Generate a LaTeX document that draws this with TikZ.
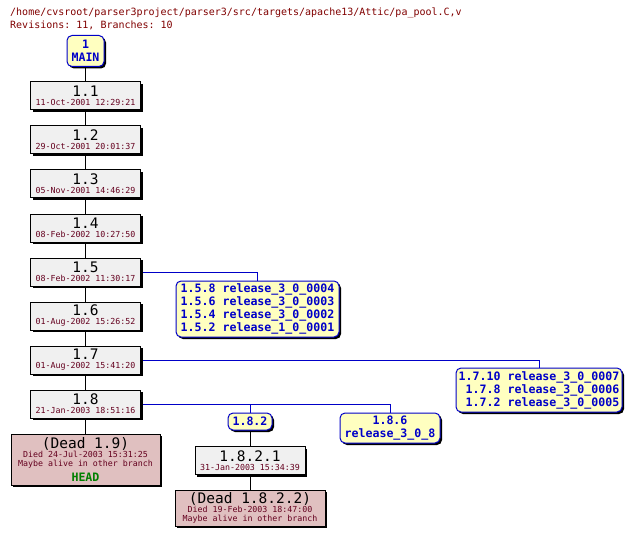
\documentclass[tikz,border=0pt]{standalone}
\usepackage{fontspec}
\setmonofont{DejaVu Sans Mono}
\usepackage{xcolor}
\usepackage{tikz}
\usetikzlibrary{shadows, backgrounds}
\definecolor{CVSRed}{RGB}{128,0,0}
\definecolor{CVSDate}{RGB}{100,0,30}
\definecolor{CVSGray}{RGB}{240,240,240}
\definecolor{CVSDead}{RGB}{224,192,192}
\definecolor{CVSYellow}{RGB}{255,255,192}
\definecolor{CVSBlue}{RGB}{0,0,200}
\definecolor{CVSGreen}{RGB}{0,128,0}
\newcommand{\revno}[1]{{\color{black}\fontsize{14.5}{15}\selectfont #1}}

\begin{document}
\begin{tikzpicture}[x=1pt, y=-1pt,
    rev/.style={draw=black, fill=CVSGray, line width=1pt, inner sep=0pt,
      minimum width=110, minimum height=28, align=center, text=CVSDate,
      font=\ttfamily\fontsize{8.3}{9}\selectfont,
      drop shadow={shadow xshift=2pt, shadow yshift=-2pt, fill=black, opacity=1}},
    dead/.style={rev, fill=CVSDead},
    tag/.style={draw=CVSBlue, fill=CVSYellow, rounded corners=5pt, line width=1pt,
      inner sep=0pt, align=center, text=CVSBlue,
      font=\ttfamily\bfseries\fontsize{11.6}{13}\selectfont,
      drop shadow={shadow xshift=2pt, shadow yshift=-2pt, fill=black, opacity=1}},
    trunk/.style={line width=1pt, black},
    branch/.style={line width=1pt, CVSBlue}]
  \useasboundingbox (0,0) rectangle (636,537);

  % header
  \node[anchor=base west, inner sep=0pt, text=CVSRed,
        font=\ttfamily\fontsize{10}{12}\selectfont] (path) at (10,16)
        {/home/cvsroot/parser3project/parser3/src/targets/apache13/Attic/pa\_pool.C,v};
  \node[anchor=base west, inner sep=0pt, text=CVSRed,
        font=\ttfamily\fontsize{10}{12}\selectfont] (stats) at (10,29)
        {Revisions: 11, Branches: 10};

  % trunk
  \node[tag, minimum width=37, minimum height=31] (main) at (85.5,51) {1\\MAIN};
  \node[rev] (r11) at (85.5,96) {\revno{1.1}\\11-Oct-2001 12:29:21};
  \node[rev] (r12) at (85.5,140) {\revno{1.2}\\29-Oct-2001 20:01:37};
  \node[rev] (r13) at (85.5,184) {\revno{1.3}\\05-Nov-2001 14:46:29};
  \node[rev] (r14) at (85.5,228) {\revno{1.4}\\08-Feb-2002 10:27:50};
  \node[rev] (r15) at (85.5,272) {\revno{1.5}\\08-Feb-2002 11:30:17};
  \node[rev] (r16) at (85.5,316) {\revno{1.6}\\01-Aug-2002 15:26:52};
  \node[rev] (r17) at (85.5,360) {\revno{1.7}\\01-Aug-2002 15:41:20};
  \node[rev] (r18) at (85.5,404) {\revno{1.8}\\21-Jan-2003 18:51:16};
  \node[dead, minimum width=149, minimum height=51] (r19) at (85.5,459.5)
        {\revno{(Dead 1.9)}\\Died 24-Jul-2003 15:31:25\\Maybe alive in other branch\\[4pt]
         {\color{CVSGreen}\bfseries\fontsize{11.6}{13}\selectfont HEAD}};

  % branches
  \node[tag, minimum width=163, minimum height=56] (b15) at (257.5,309)
        {1.5.8 release\_3\_0\_0004\\1.5.6 release\_3\_0\_0003\\1.5.4 release\_3\_0\_0002\\1.5.2 release\_1\_0\_0001};
  \node[tag, minimum width=166, minimum height=44, align=right] (b17) at (539,390)
        {1.7.10 release\_3\_0\_0007\\1.7.8 release\_3\_0\_0006\\1.7.2 release\_3\_0\_0005};
  \node[tag, minimum width=44, minimum height=17] (b182) at (250,421.5) {1.8.2};
  \node[tag, minimum width=100, minimum height=30] (b186) at (390,428)
        {1.8.6\\release\_3\_0\_8};
  \node[rev] (r1821) at (250,460.5) {\revno{1.8.2.1}\\31-Jan-2003 15:34:39};
  \node[dead, minimum width=150, minimum height=36] (r1822) at (250,508)
        {\revno{(Dead 1.8.2.2)}\\Died 19-Feb-2003 18:47:00\\Maybe alive in other branch};

  \begin{scope}[on background layer]
    \draw[trunk] (main) -- (r11) -- (r12) -- (r13) -- (r14) -- (r15) -- (r16)
                 -- (r17) -- (r18) -- (r19);
    \draw[trunk] (b182) -- (r1821) -- (r1822);
    \draw[branch] (r15.east) -| (b15.north);
    \draw[branch] (r17.east) -| (b17.north);
    \draw[branch] (r18.east) -| (b186.north);
    \draw[branch] (b182.north |- r18.east) -- (b182.north);
  \end{scope}
\end{tikzpicture}
\end{document}
